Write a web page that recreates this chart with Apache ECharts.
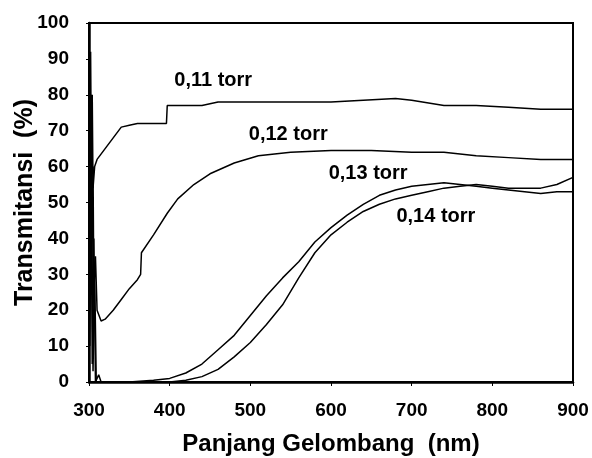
<!DOCTYPE html>
<html>
<head>
<meta charset="utf-8">
<script src="https://cdn.jsdelivr.net/npm/echarts@6/dist/echarts.min.js"></script>
<style>
  html, body { margin: 0; padding: 0; background: #fff; }
  #chart { width: 592px; height: 458px; }
</style>
</head>
<body>
<div id="chart"></div>
<script>
// wavelength (nm), transmittance (%)
const c011 = [[300,100],[301,70],[302,92],[303,58],[304,80],[305,54],[307,60],[310,62],[320,65],[330,68],[340,71],[350,71.5],[360,72],[380,72],[396,72],[397,77],[420,77],[440,77],[460,78],[500,78],[560,78],[600,78],[640,78.5],[680,79],[700,78.5],[740,77],[780,77],[820,76.5],[860,76],[880,76],[900,76]];
const c012 = [[300,98],[301,40],[302,80],[303,30],[305,60],[306,25],[308,35],[310,20],[315,17],[320,17.5],[330,20],[340,23],[350,26],[360,28.5],[364,30],[365,36],[380,41],[397,47],[410,51],[430,55],[450,58],[480,61],[510,63],[550,64],[600,64.5],[650,64.5],[700,64],[740,64],[780,63],[820,62.5],[860,62],[900,62]];
const c013 = [[300,90],[301,20],[302,75],[304,5],[306,40],[308,0],[312,2],[315,0],[350,0],[380,0.5],[400,1],[420,2.5],[440,5],[460,9],[480,13],[500,18.5],[520,24],[540,29],[560,33.5],[580,39],[600,43],[620,46.5],[640,49.5],[660,52],[680,53.5],[700,54.5],[720,55],[740,55.5],[760,55],[780,54.5],[800,54],[820,53.5],[840,53],[860,52.5],[880,53],[900,53]];
const c014 = [[300,85],[301,10],[303,60],[305,3],[307,30],[309,0],[315,0],[350,0],[400,0],[420,0.5],[440,1.5],[460,3.5],[480,7],[500,11],[520,16],[540,21.5],[560,29],[580,36],[600,41],[620,44.5],[640,47.5],[660,49.5],[680,51],[700,52],[720,53],[740,54],[760,54.5],[780,55],[800,54.5],[820,54],[840,54],[860,54],[880,55],[900,57]];

const seriesNames = ['0,11 torr', '0,12 torr', '0,13 torr', '0,14 torr'];
const seriesData = [c011, c012, c013, c014];
// where each curve label sits, in data units
const labelPos = [[454, 84], [547, 69], [646, 58], [730, 46]];

const font = 'Arial, "Liberation Sans", sans-serif';
const chart = echarts.init(document.getElementById('chart'));

chart.setOption({
  animation: false,
  backgroundColor: '#fff',
  grid: {
    left: 89, right: 19, top: 23, bottom: 76,
    outerBoundsMode: 'none',
    show: true, borderColor: '#000', borderWidth: 2
  },
  xAxis: {
    type: 'value', min: 300, max: 900, interval: 100,
    name: 'Panjang Gelombang  (nm)', nameLocation: 'middle', nameGap: 50,
    nameMoveOverlap: false,
    nameTextStyle: { fontFamily: font, fontWeight: 'bold', fontSize: 24, color: '#000' },
    axisLine: { lineStyle: { color: '#000', width: 2.5 } },
    axisTick: { show: true, length: 4, lineStyle: { color: '#000' } },
    axisLabel: { fontFamily: font, fontWeight: 'bold', fontSize: 19, color: '#000', margin: 19 },
    splitLine: { show: false }
  },
  yAxis: {
    type: 'value', min: 0, max: 100, interval: 10,
    name: 'Transmitansi  (%)', nameLocation: 'middle', nameGap: 51,
    nameMoveOverlap: false,
    nameTextStyle: { fontFamily: font, fontWeight: 'bold', fontSize: 25, color: '#000' },
    axisLine: { show: true, lineStyle: { color: '#000', width: 2.5 } },
    axisTick: { show: true, length: 3, lineStyle: { color: '#000' } },
    axisLabel: { fontFamily: font, fontWeight: 'bold', fontSize: 19, color: '#000', margin: 20 },
    splitLine: { show: false }
  },
  series: seriesData.map((d, i) => ({
    name: seriesNames[i],
    type: 'line',
    data: d,
    showSymbol: false,
    lineStyle: { color: '#000', width: 1.5 }
  }))
});

chart.setOption({
  graphic: labelPos.map((p, i) => {
    const px = chart.convertToPixel({ gridIndex: 0 }, p);
    return {
      type: 'text',
      x: px[0], y: px[1],
      style: {
        text: seriesNames[i],
        fill: '#000',
        font: 'bold 20px ' + font,
        textAlign: 'center',
        textVerticalAlign: 'middle'
      }
    };
  })
});
</script>
</body>
</html>
